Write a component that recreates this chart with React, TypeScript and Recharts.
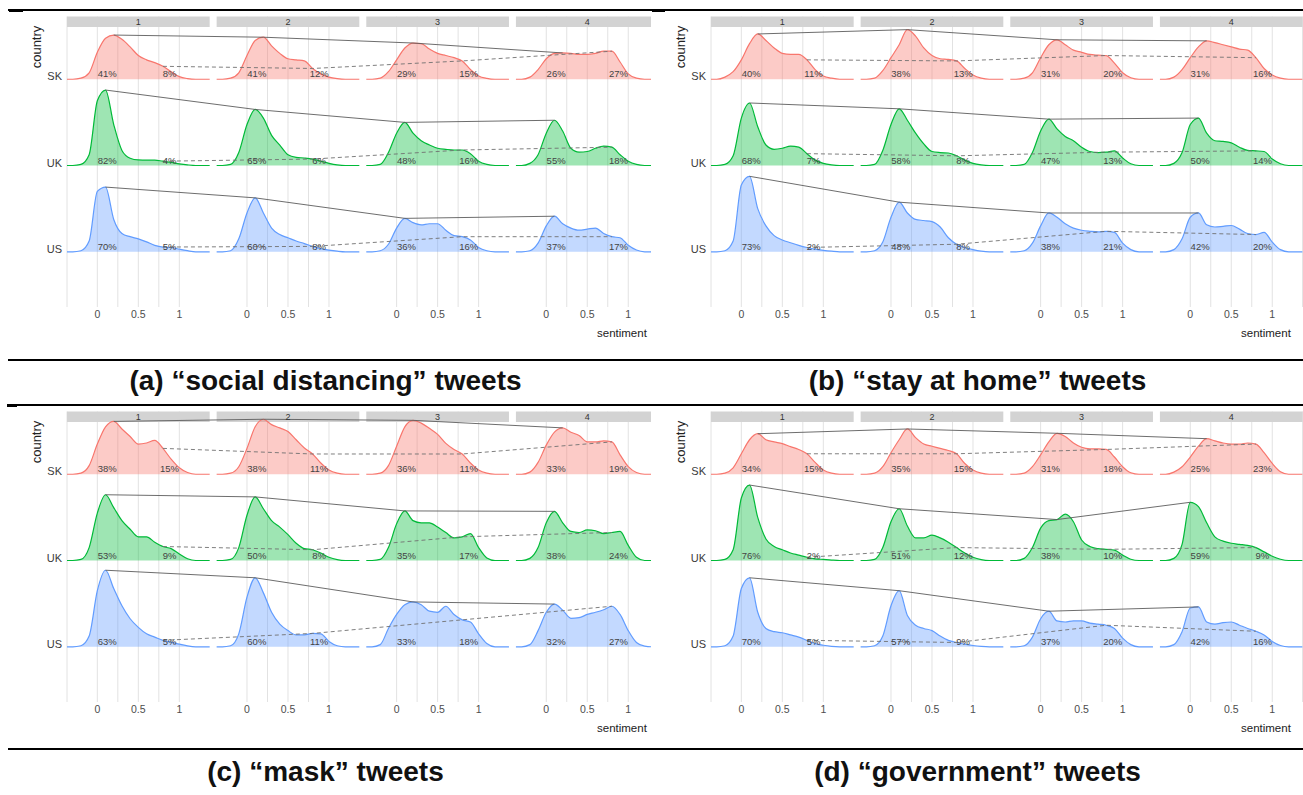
import React from 'react';
import {
  ComposedChart,
  Area,
  Line,
  Scatter,
  XAxis,
  YAxis,
  CartesianGrid,
  ReferenceArea,
} from 'recharts';

const SENT_GRID = [-0.3, -0.2, -0.1, 0, 0.1, 0.2, 0.3, 0.4, 0.5, 0.6, 0.7, 0.8, 0.9, 1, 1.1, 1.2, 1.3];
const COUNTRIES = ['SK', 'UK', 'US'];
const PERIODS = ['1', '2', '3', '4'];
const X_TICKS = [0, 0.25, 0.5, 0.75, 1];
const X_TICK_LABELS = ['0', '', '0.5', '', '1'];

// ridge heights (density), one row per period 1..4
const distSK = [
  [0, 0.05, 0.3, 1.25, 1.9, 2.05, 1.85, 1.5, 1.1, 0.9, 0.77, 0.6, 0.35, 0.12, 0.03, 0, 0],
  [0, 0.05, 0.3, 1.1, 1.8, 1.95, 1.55, 1.2, 0.95, 0.9, 0.85, 0.5, 0.25, 0.1, 0.03, 0, 0],
  [0, 0.05, 0.35, 0.9, 1.45, 1.68, 1.65, 1.4, 1.2, 1.1, 1.0, 0.85, 0.45, 0.15, 0.04, 0, 0],
  [0, 0.1, 0.45, 0.95, 1.2, 1.22, 1.2, 1.15, 1.15, 1.2, 1.3, 1.3, 0.8, 0.25, 0.05, 0, 0],
];
const distUK = [
  [0, 0.05, 0.5, 3.0, 3.5, 1.9, 0.7, 0.34, 0.26, 0.25, 0.25, 0.2, 0.15, 0.08, 0.03, 0, 0],
  [0, 0.05, 0.6, 1.9, 2.6, 2.2, 1.4, 0.95, 0.5, 0.38, 0.35, 0.3, 0.2, 0.1, 0.03, 0, 0],
  [0, 0.05, 0.6, 1.5, 2.0, 1.5, 1.15, 0.95, 0.8, 0.75, 0.72, 0.72, 0.55, 0.2, 0.05, 0, 0],
  [0, 0.1, 0.5, 1.5, 2.1, 1.6, 0.8, 0.62, 0.65, 0.8, 0.9, 0.85, 0.5, 0.2, 0.05, 0, 0],
];
const distUS = [
  [0, 0.05, 0.5, 2.8, 3.0, 1.5, 0.85, 0.7, 0.6, 0.46, 0.3, 0.22, 0.2, 0.12, 0.05, 0, 0],
  [0, 0.05, 0.6, 1.8, 2.5, 1.8, 1.1, 0.8, 0.65, 0.5, 0.38, 0.25, 0.15, 0.08, 0.03, 0, 0],
  [0, 0.05, 0.35, 1.1, 1.55, 1.35, 1.25, 1.3, 1.3, 1.0, 0.75, 0.7, 0.55, 0.2, 0.05, 0, 0],
  [0, 0.05, 0.4, 1.2, 1.65, 1.3, 1.1, 1.0, 1.05, 1.1, 0.85, 0.7, 0.65, 0.3, 0.08, 0, 0],
];

const homeSK = [
  [0, 0.1, 0.35, 0.9, 1.65, 2.1, 1.8, 1.45, 1.2, 1.15, 1.15, 0.9, 0.45, 0.15, 0.05, 0, 0],
  [0, 0.05, 0.4, 1.0, 1.6, 2.3, 2.0, 1.45, 1.1, 0.95, 0.92, 0.85, 0.5, 0.2, 0.05, 0, 0],
  [0, 0.05, 0.3, 1.0, 1.6, 1.83, 1.6, 1.35, 1.25, 1.15, 1.12, 1.1, 0.75, 0.3, 0.07, 0, 0],
  [0, 0.1, 0.45, 1.0, 1.5, 1.78, 1.7, 1.6, 1.5, 1.4, 1.35, 1.0, 0.5, 0.2, 0.05, 0, 0],
];
const homeUK = [
  [0, 0.05, 0.45, 2.2, 2.9, 1.8, 0.95, 0.75, 0.8, 0.9, 0.85, 0.55, 0.25, 0.1, 0.03, 0, 0],
  [0, 0.05, 0.7, 1.9, 2.63, 2.1, 1.5, 1.0, 0.65, 0.6, 0.58, 0.45, 0.25, 0.1, 0.03, 0, 0],
  [0, 0.05, 0.6, 1.6, 2.15, 1.7, 1.35, 1.15, 0.85, 0.65, 0.6, 0.62, 0.68, 0.35, 0.08, 0, 0],
  [0, 0.1, 0.6, 1.9, 2.2, 1.5, 1.15, 1.12, 1.05, 0.85, 0.7, 0.68, 0.65, 0.3, 0.08, 0, 0],
];
const homeUS = [
  [0, 0.05, 0.5, 3.1, 3.5, 2.0, 1.2, 0.75, 0.55, 0.42, 0.3, 0.2, 0.12, 0.07, 0.03, 0, 0],
  [0, 0.05, 0.45, 1.6, 2.3, 1.8, 1.5, 1.45, 1.4, 1.15, 0.65, 0.35, 0.2, 0.1, 0.03, 0, 0],
  [0, 0.05, 0.4, 1.2, 1.8, 1.6, 1.3, 1.1, 1.0, 0.95, 0.92, 0.95, 0.9, 0.4, 0.1, 0, 0],
  [0, 0.1, 0.6, 1.6, 1.8, 1.25, 1.15, 1.18, 1.22, 1.05, 0.85, 0.8, 0.9, 0.45, 0.1, 0, 0],
];

const maskSK = [
  [0, 0.05, 0.4, 1.4, 2.2, 2.45, 2.1, 1.75, 1.4, 1.45, 1.57, 1.2, 0.7, 0.3, 0.08, 0, 0],
  [0, 0.05, 0.35, 1.2, 2.2, 2.55, 2.3, 2.15, 1.98, 1.6, 1.22, 0.94, 0.52, 0.2, 0.05, 0, 0],
  [0, 0.05, 0.4, 1.3, 2.2, 2.5, 2.37, 2.13, 1.85, 1.43, 1.15, 0.94, 0.52, 0.2, 0.05, 0, 0],
  [0, 0.1, 0.55, 1.35, 1.95, 2.15, 1.95, 1.8, 1.5, 1.5, 1.55, 1.5, 0.9, 0.35, 0.08, 0, 0],
];
const maskUK = [
  [0, 0.05, 0.6, 2.2, 3.05, 2.45, 1.85, 1.45, 1.1, 1.1, 0.85, 0.65, 0.55, 0.3, 0.08, 0, 0],
  [0, 0.05, 0.6, 2.1, 2.95, 2.4, 1.85, 1.55, 1.2, 0.8, 0.55, 0.5, 0.35, 0.15, 0.04, 0, 0],
  [0, 0.05, 0.6, 1.7, 2.3, 1.85, 1.75, 1.75, 1.55, 1.3, 1.05, 1.1, 1.25, 0.6, 0.12, 0, 0],
  [0, 0.1, 0.6, 1.75, 2.28, 1.75, 1.35, 1.3, 1.42, 1.38, 1.25, 1.3, 1.35, 0.7, 0.15, 0, 0],
];
const maskUS = [
  [0, 0.05, 0.5, 2.6, 3.55, 2.7, 1.9, 1.3, 0.9, 0.6, 0.45, 0.3, 0.22, 0.12, 0.04, 0, 0],
  [0, 0.05, 0.6, 2.3, 3.2, 2.5, 1.6, 1.05, 0.75, 0.55, 0.55, 0.62, 0.6, 0.25, 0.05, 0, 0],
  [0, 0.1, 0.85, 1.5, 1.95, 2.08, 1.95, 1.65, 1.6, 1.88, 1.5, 1.25, 1.15, 0.6, 0.15, 0, 0],
  [0, 0.1, 0.75, 1.6, 1.98, 1.7, 1.32, 1.35, 1.5, 1.6, 1.72, 1.88, 1.5, 0.75, 0.2, 0.03, 0],
];

const govSK = [
  [0, 0.05, 0.3, 0.95, 1.6, 1.88, 1.6, 1.5, 1.42, 1.28, 1.15, 0.95, 0.55, 0.2, 0.05, 0, 0],
  [0, 0.05, 0.35, 1.0, 1.6, 2.1, 1.7, 1.4, 1.3, 1.2, 1.1, 0.95, 0.5, 0.2, 0.05, 0, 0],
  [0, 0.05, 0.35, 0.9, 1.5, 1.9, 1.75, 1.45, 1.25, 1.18, 1.18, 1.15, 0.8, 0.35, 0.07, 0, 0],
  [0, 0.1, 0.35, 0.8, 1.3, 1.65, 1.55, 1.45, 1.4, 1.4, 1.45, 1.4, 1.0, 0.5, 0.12, 0, 0],
];
const govUK = [
  [0, 0.05, 0.5, 2.9, 3.5, 2.0, 1.0, 0.65, 0.5, 0.35, 0.25, 0.15, 0.08, 0.05, 0.02, 0, 0],
  [0, 0.05, 0.6, 1.8, 2.4, 1.6, 1.05, 1.05, 1.18, 1.05, 0.85, 0.6, 0.35, 0.15, 0.04, 0, 0],
  [0, 0.1, 0.6, 1.5, 1.85, 1.9, 2.15, 1.8, 0.95, 0.65, 0.55, 0.52, 0.48, 0.25, 0.06, 0, 0],
  [0, 0.1, 0.75, 2.7, 2.5, 1.75, 1.1, 0.9, 0.8, 0.75, 0.7, 0.6, 0.4, 0.2, 0.06, 0, 0],
];
const govUS = [
  [0, 0.05, 0.5, 2.7, 3.2, 1.6, 0.85, 0.7, 0.65, 0.55, 0.45, 0.3, 0.15, 0.07, 0.02, 0, 0],
  [0, 0.05, 0.5, 1.9, 2.6, 1.45, 1.0, 0.85, 0.75, 0.5, 0.3, 0.2, 0.12, 0.06, 0.02, 0, 0],
  [0, 0.05, 0.45, 1.3, 1.65, 1.2, 1.15, 1.2, 1.2, 1.1, 1.05, 1.0, 0.85, 0.4, 0.1, 0, 0],
  [0, 0.1, 0.7, 1.8, 1.85, 1.15, 1.05, 1.12, 1.15, 1.0, 0.85, 0.72, 0.55, 0.25, 0.06, 0, 0],
];

// share labels (%), rows SK / UK / US, columns period 1..4
const distLow = [[41, 41, 29, 26], [82, 65, 48, 55], [70, 60, 36, 37]];
const distHigh = [[8, 12, 15, 27], [4, 6, 16, 18], [5, 8, 16, 17]];
const homeLow = [[40, 38, 31, 31], [68, 58, 47, 50], [73, 48, 38, 42]];
const homeHigh = [[11, 13, 20, 16], [7, 8, 13, 14], [2, 8, 21, 20]];
const maskLow = [[38, 38, 36, 33], [53, 50, 35, 38], [63, 60, 33, 32]];
const maskHigh = [[15, 11, 11, 19], [9, 8, 17, 24], [5, 11, 18, 27]];
const govLow = [[34, 35, 31, 25], [76, 51, 38, 59], [70, 57, 37, 42]];
const govHigh = [[15, 15, 18, 23], [2, 12, 10, 9], [5, 9, 20, 16]];

const PANELS = [
  { id: 'a', caption: '(a) “social distancing” tweets', ridges: [distSK, distUK, distUS], low: distLow, high: distHigh, left: 0, top: 0, clip: 651 },
  { id: 'b', caption: '(b) “stay at home” tweets', ridges: [homeSK, homeUK, homeUS], low: homeLow, high: homeHigh, left: 644, top: 0, clip: 659 },
  { id: 'c', caption: '(c) “mask” tweets', ridges: [maskSK, maskUK, maskUS], low: maskLow, high: maskHigh, left: 0, top: 395, clip: 651 },
  { id: 'd', caption: '(d) “government” tweets', ridges: [govSK, govUK, govUS], low: govLow, high: govHigh, left: 644, top: 395, clip: 659 },
];

const COLORS = ['#F8766D', '#00BA38', '#619CFF'];
const FACET_STEP = 1.825;
const ROW_STEP = 4;
const U_MIN = -0.37;
const U_MAX = 1.37;
const Y_MIN = -2.56;
const PLOT_TOP = 10.42;
const STRIP_TOP = 10.91;
const LABEL_U = [0.12, 0.88];

const gx = (f: number, u: number) => f * FACET_STEP + u;

const xTicks: number[] = [];
const xTickText: Record<string, string> = {};
PERIODS.forEach((_, f) =>
  X_TICKS.forEach((u, i) => {
    const v = gx(f, u);
    xTicks.push(v);
    xTickText[v.toFixed(4)] = X_TICK_LABELS[i];
  })
);

const CountryTick = (props: any) => {
  const { x, y, payload } = props;
  return (
    <text x={x} y={y + 1} textAnchor="end" fontSize={11} fill="#3a3a3a">
      {COUNTRIES[2 - Math.round(payload.value / ROW_STEP)]}
    </text>
  );
};

const ShareLabel = (props: any) => (
  <text x={props.cx} y={props.cy - 2} textAnchor="middle" fontSize={9.5} fill="#444">
    {props.payload.label}
  </text>
);

function Panel({ p }: { p: any }) {
  const series: any[] = [];
  const labels: any[] = [];
  COUNTRIES.forEach((c, ci) => {
    const base = (2 - ci) * ROW_STEP;
    const peaks: any[] = [];
    const tails: any[] = [];
    p.ridges[ci].forEach((h: number[], f: number) => {
      const pts = [
        { x: gx(f, U_MIN), range: [base, base], top: base },
        ...SENT_GRID.map((u, i) => ({ x: gx(f, u), range: [base, base + h[i]], top: base + h[i] })),
        { x: gx(f, U_MAX), range: [base, base], top: base },
      ];
      series.push(
        <Area
          key={`a-${c}-${f}`}
          data={pts}
          dataKey="range"
          type="monotone"
          fill={COLORS[ci]}
          fillOpacity={0.38}
          stroke="none"
          isAnimationActive={false}
        />,
        <Line
          key={`l-${c}-${f}`}
          data={pts}
          dataKey="top"
          type="monotone"
          stroke={COLORS[ci]}
          strokeWidth={1.2}
          dot={false}
          isAnimationActive={false}
        />
      );
      // first mode (sentiment <= 0.2) and the positive side at 0.8
      let best = 0;
      for (let i = 0; i <= 5; i++) if (h[i] > h[best]) best = i;
      peaks.push({ x: gx(f, SENT_GRID[best]), y: base + h[best] });
      tails.push({ x: gx(f, 0.8), y: base + h[11] });
      labels.push({ x: gx(f, LABEL_U[0]), y: base, label: `${p.low[ci][f]}%` });
      labels.push({ x: gx(f, LABEL_U[1]), y: base, label: `${p.high[ci][f]}%` });
    });
    series.push(
      <Line key={`pk-${c}`} data={peaks} dataKey="y" stroke="#5c5c5c" strokeWidth={0.9} dot={false} isAnimationActive={false} />,
      <Line key={`tl-${c}`} data={tails} dataKey="y" stroke="#707070" strokeWidth={0.9} strokeDasharray="4 3" dot={false} isAnimationActive={false} />
    );
  });

  return (
    <div style={{ position: 'absolute', left: p.left, top: p.top, width: p.clip, height: 345, overflow: 'hidden' }}>
      <ComposedChart width={660} height={345} margin={{ top: 16.5, right: 1.4, bottom: 0, left: 0 }}>
        <CartesianGrid vertical horizontal={false} stroke="#e2e2e2" />
        <XAxis
          type="number"
          dataKey="x"
          domain={[U_MIN, gx(3, U_MAX)]}
          ticks={xTicks}
          interval={0}
          allowDataOverflow
          tickFormatter={(v: number) => xTickText[v.toFixed(4)] ?? ''}
          axisLine={false}
          tickLine={false}
          tickSize={0}
          tickMargin={4}
          height={38}
          tick={{ fontSize: 10.5, fill: '#4d4d4d' }}
        />
        <YAxis
          type="number"
          domain={[Y_MIN, STRIP_TOP]}
          ticks={[0, ROW_STEP, 2 * ROW_STEP]}
          allowDataOverflow
          axisLine={false}
          tickLine={false}
          tickSize={0}
          tickMargin={5}
          width={67}
          tick={CountryTick}
        />
        {PERIODS.map((label, f) => (
          <ReferenceArea
            key={`s-${label}`}
            x1={gx(f, U_MIN)}
            x2={gx(f, U_MAX)}
            y1={PLOT_TOP}
            y2={STRIP_TOP}
            fill="#d3d3d3"
            fillOpacity={1}
            stroke="none"
            label={{ value: label, position: 'center', fontSize: 9, fill: '#333' }}
          />
        ))}
        {series}
        <Scatter data={labels} dataKey="y" shape={ShareLabel} isAnimationActive={false} />
      </ComposedChart>
      <div
        style={{
          position: 'absolute', left: 7, top: 40, width: 60, textAlign: 'center',
          fontSize: 13, color: '#222', transform: 'rotate(-90deg)', lineHeight: '14px',
        }}
      >
        country
      </div>
      <div style={{ position: 'absolute', left: 597, top: 326, fontSize: 11.5, color: '#222', whiteSpace: 'nowrap', lineHeight: '14px' }}>
        sentiment
      </div>
    </div>
  );
}

// horizontal rules of the figure table: [top, thickness]
const RULES = [[9, 1.5], [359, 2], [404, 2], [748, 2]];

export default function App() {
  return (
    <div
      style={{
        position: 'absolute', left: 0, top: 0, width: 1303, height: 795, overflow: 'hidden',
        background: '#fff', fontFamily: '"Liberation Sans", Arial, sans-serif',
      }}
    >
      {PANELS.map((p) => (
        <Panel key={p.id} p={p} />
      ))}
      {RULES.map(([y, t]) => (
        <div key={y} style={{ position: 'absolute', left: 8, top: y, width: 1295, height: t, background: '#000' }} />
      ))}
      <div style={{ position: 'absolute', left: 9, top: 9, width: 14, height: 3, background: '#000' }} />
      <div style={{ position: 'absolute', left: 652, top: 9, width: 13, height: 3, background: '#000' }} />
      <div style={{ position: 'absolute', left: 7, top: 404, width: 10, height: 3, background: '#000' }} />
      {PANELS.map((p) => (
        <div
          key={`cap-${p.id}`}
          style={{
            position: 'absolute', left: p.left === 0 ? 0 : 652, top: p.top === 0 ? 365 : 756, width: 651,
            textAlign: 'center', fontSize: 28, fontWeight: 'bold', color: '#111', lineHeight: '32px',
          }}
        >
          {p.caption}
        </div>
      ))}
    </div>
  );
}
